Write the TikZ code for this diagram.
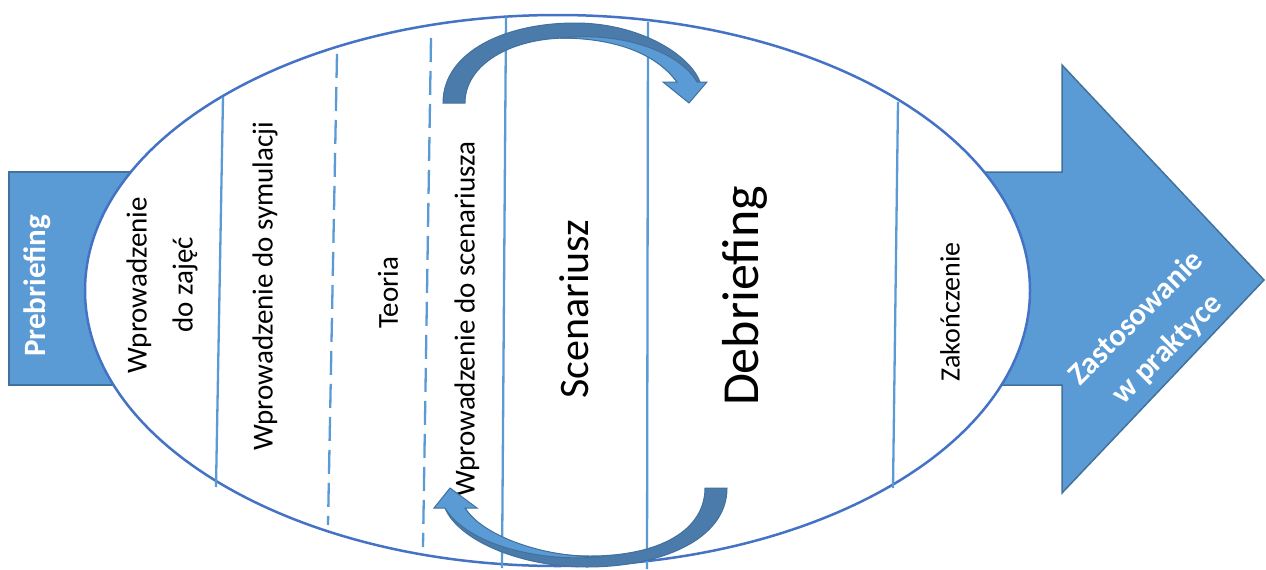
\documentclass[tikz,border=0pt]{standalone}
\usepackage{fontspec}
\setmainfont{Carlito}
\usetikzlibrary{positioning}

\definecolor{stageblue}{HTML}{5B9BD5}
\definecolor{stageedge}{HTML}{41719C}
\definecolor{ovalline}{HTML}{4472C4}
\definecolor{loopdark}{HTML}{4A7BAA}

\begin{document}
\begin{tikzpicture}[
    x=1pt, y=-1pt,
    block/.style={fill=stageblue, draw=stageedge, line width=1.5pt, line join=miter},
    divider/.style={draw=stageblue, line width=2.3pt},
    dashdiv/.style={divider, dash pattern=on 24pt off 9pt},
    phase/.style={rotate=90, align=center, inner sep=0pt, font=\fontsize{29}{46}\selectfont},
    banner/.style={text=white, align=center, inner sep=0pt, font=\bfseries\fontsize{31}{44}\selectfont},
    loopdk/.style={fill=loopdark, draw=stageedge, line width=1pt},
    looplt/.style={fill=stageblue, draw=stageedge, line width=1pt},
]
\useasboundingbox (0,0) rectangle (1266,570);

% Entry and exit blocks (behind the oval)
\draw[block] (9,172) rectangle (160,385);
\draw[block] (960,172) -- (1062,172) -- (1062,65) -- (1264,280)
    -- (1062,493) -- (1062,385) -- (960,385) -- cycle;

% Oval
\draw[fill=white, draw=ovalline, line width=2.5pt] (557.5,290.5) ellipse [x radius=472.5, y radius=275.5];

% Dividers
\draw[divider] (223,97) -- (216,487);
\draw[dashdiv] (337,54) -- (328,525);
\draw[dashdiv] (431,38) -- (423,547);
\draw[divider] (506,17) -- (502,568);
\draw[divider] (648,22) -- (647,569);
\draw[divider] (898,102) -- (893,488);

% Stage labels
\node[banner, rotate=90] (pre) at (37,286) {Prebriefing};
\node[phase] (intro) at (162,285) {Wprowadzenie\\do zajęć};
\node[phase] (simintro) at (265,286) {Wprowadzenie do symulacji};
\node[phase] (theory) at (388,293) {Teoria};
\node[phase] (scenintro) at (467,319) {Wprowadzenie do scenariusza};
\node[phase, font=\fontsize{42}{50}\selectfont] (scen) at (574,309) {Scenariusz};
\node[phase, font=\fontsize{52}{60}\selectfont] (debrief) at (745,296) {Debriefing};
\node[phase, font=\fontsize{28}{34}\selectfont] (closing) at (950,312) {Zakończenie};
\node[banner, rotate=45] (apply) at (1152,334) {Zastosowanie\\w praktyce};

% Loop arrow over the top
\draw[loopdk] (443,103) .. controls (443,52) and (505,23) .. (575,23)
    .. controls (640,23) and (690,55) .. (700,82) -- (677,82)
    .. controls (655,52) and (612,38) .. (568,38)
    .. controls (510,38) and (465,65) .. (465,103) -- cycle;
\draw[looplt] (560,38) .. controls (622,31) and (680,52) .. (697,82)
    -- (707,82) -- (689,103) -- (663,82) -- (677,82)
    .. controls (655,52) and (612,38) .. (560,38) -- cycle;

% Loop arrow under the bottom
\draw[loopdk] (727,488) .. controls (727,540) and (660,567) .. (587,567)
    .. controls (520,567) and (458,540) .. (445,508) -- (465,508)
    .. controls (482,535) and (532,556) .. (590,556)
    .. controls (660,556) and (705,530) .. (705,488) -- cycle;
\draw[looplt] (600,557) .. controls (538,562) and (468,545) .. (445,508)
    -- (434,508) -- (450,488) -- (477,508) -- (465,508)
    .. controls (482,535) and (540,557) .. (600,557) -- cycle;

\end{tikzpicture}
\end{document}
